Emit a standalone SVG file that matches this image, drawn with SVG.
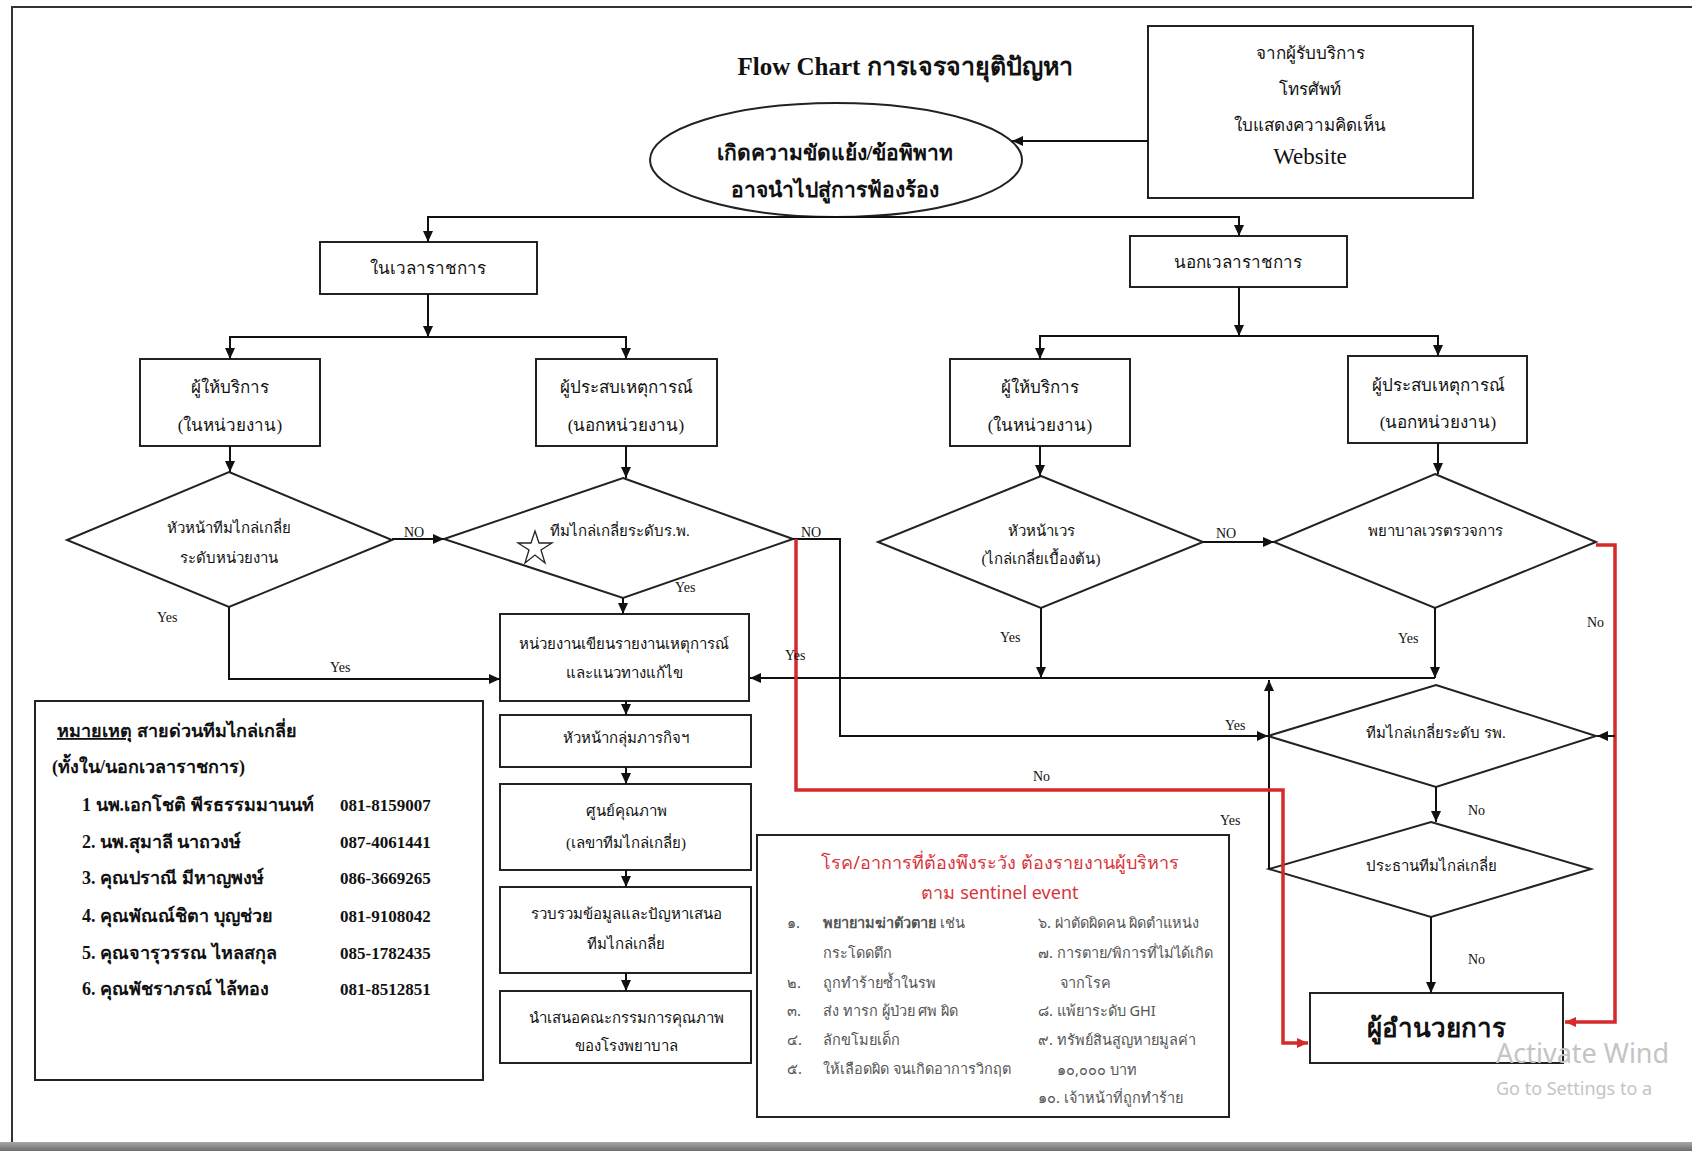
<svg xmlns="http://www.w3.org/2000/svg" width="1692" height="1151" viewBox="0 0 1692 1151">
<defs>
<marker id="ab" markerUnits="userSpaceOnUse" markerWidth="12" markerHeight="10" refX="11" refY="5" orient="auto"><path d="M0,0 L11,5 L0,10 z" fill="#111"/></marker>
<marker id="ar" markerUnits="userSpaceOnUse" markerWidth="12" markerHeight="10" refX="11" refY="5" orient="auto"><path d="M0,0 L11,5 L0,10 z" fill="#d42a2a"/></marker>
<linearGradient id="bar" x1="0" y1="0" x2="0" y2="1"><stop offset="0" stop-color="#a8a8a8"/><stop offset="1" stop-color="#6c6c6c"/></linearGradient>
</defs>
<style>
.n{fill:#fff;stroke:#222;stroke-width:2}
.t{font-family:"Liberation Serif",serif;font-size:17px;fill:#111;text-anchor:middle}
.s{font-family:"Liberation Serif",serif;font-size:15px;fill:#111;text-anchor:middle}
.lb{font-family:"Liberation Serif",serif;font-size:14px;fill:#111}
.c{fill:none;stroke:#111;stroke-width:2}
.r{fill:none;stroke:#d42a2a;stroke-width:3.5}
.nb{font-family:"Liberation Serif",serif;font-size:18px;font-weight:bold;fill:#111}
.ph{font-family:"Liberation Serif",serif;font-size:17px;font-weight:bold;fill:#111}
.g{font-family:"Noto Sans",sans-serif;font-size:14.5px;fill:#555}
.big{font-family:"Liberation Serif",serif;font-size:21px;font-weight:bold;fill:#111;text-anchor:middle}
</style>
<rect width="1692" height="1151" fill="#fff"/>
<path d="M12,1142 V7 H1692" fill="none" stroke="#333" stroke-width="2"/>
<rect x="0" y="1142" width="1692" height="9" fill="url(#bar)"/>

<text x="905" y="75" font-family="Liberation Serif,serif" font-size="25" font-weight="bold" text-anchor="middle" fill="#111">Flow Chart การเจรจายุติปัญหา</text>

<g id="n-start"><ellipse class="n" cx="836" cy="160" rx="186" ry="57"/>
<text class="big" x="835" y="160">เกิดความขัดแย้ง/ข้อพิพาท</text>
<text class="big" x="835" y="197">อาจนำไปสู่การฟ้องร้อง</text></g>

<g id="n-source"><rect class="n" x="1148" y="26" width="325" height="172"/>
<text class="t" x="1310" y="59">จากผู้รับบริการ</text>
<text class="t" x="1310" y="95">โทรศัพท์</text>
<text class="t" x="1310" y="131">ใบแสดงความคิดเห็น</text>
<text class="t" x="1310" y="164" style="font-size:23px">Website</text></g>

<g id="n-in"><rect class="n" x="320" y="242" width="217" height="52"/><text class="t" x="428" y="274">ในเวลาราชการ</text></g>
<g id="n-out"><rect class="n" x="1130" y="236" width="217" height="51"/><text class="t" x="1238" y="268">นอกเวลาราชการ</text></g>

<g id="n-prov1"><rect class="n" x="140" y="359" width="180" height="87"/><text class="t" x="230" y="393">ผู้ให้บริการ</text><text class="t" x="230" y="431">(ในหน่วยงาน)</text></g>
<g id="n-wit1"><rect class="n" x="536" y="359" width="181" height="87"/><text class="t" x="626" y="393">ผู้ประสบเหตุการณ์</text><text class="t" x="626" y="431">(นอกหน่วยงาน)</text></g>
<g id="n-prov2"><rect class="n" x="950" y="359" width="180" height="87"/><text class="t" x="1040" y="393">ผู้ให้บริการ</text><text class="t" x="1040" y="431">(ในหน่วยงาน)</text></g>
<g id="n-wit2"><rect class="n" x="1348" y="356" width="179" height="87"/><text class="t" x="1438" y="391">ผู้ประสบเหตุการณ์</text><text class="t" x="1438" y="428">(นอกหน่วยงาน)</text></g>

<g id="n-d1"><polygon class="n" points="229,472 392,540 229,607 67,540"/><text class="s" x="229" y="533">หัวหน้าทีมไกล่เกลี่ย</text><text class="s" x="229" y="563">ระดับหน่วยงาน</text></g>
<g id="n-d2"><polygon class="n" points="623,478 793,539 623,598 444,539"/><text class="s" x="620" y="536">ทีมไกล่เกลี่ยระดับร.พ.</text>
<polygon points="535,531 539,543 552,543 541,550 545,563 535,555 525,563 529,550 518,543 531,543" fill="#fff" stroke="#222" stroke-width="1.3"/></g>
<g id="n-d3"><polygon class="n" points="1041,476 1203,542 1041,608 878,542"/><text class="s" x="1041" y="536">หัวหน้าเวร</text><text class="s" x="1041" y="564">(ไกล่เกลี่ยเบื้องต้น)</text></g>
<g id="n-d4"><polygon class="n" points="1435,474 1596,542 1435,608 1274,542"/><text class="s" x="1435" y="536">พยาบาลเวรตรวจการ</text></g>

<g id="n-report"><rect class="n" x="500" y="614" width="249" height="87"/><text class="s" x="624" y="649">หน่วยงานเขียนรายงานเหตุการณ์</text><text class="s" x="624" y="678">และแนวทางแก้ไข</text></g>
<g id="n-head"><rect class="n" x="500" y="715" width="251" height="52"/><text class="s" x="626" y="743">หัวหน้ากลุ่มภารกิจฯ</text></g>
<g id="n-qc"><rect class="n" x="500" y="784" width="251" height="86"/><text class="s" x="626" y="816">ศูนย์คุณภาพ</text><text class="s" x="626" y="848">(เลขาทีมไกล่เกลี่ย)</text></g>
<g id="n-collect"><rect class="n" x="500" y="887" width="251" height="86"/><text class="s" x="626" y="919">รวบรวมข้อมูลและปัญหาเสนอ</text><text class="s" x="626" y="949">ทีมไกล่เกลี่ย</text></g>
<g id="n-commit"><rect class="n" x="500" y="991" width="251" height="72"/><text class="s" x="626" y="1023">นำเสนอคณะกรรมการคุณภาพ</text><text class="s" x="626" y="1051">ของโรงพยาบาล</text></g>

<g id="n-d5"><polygon class="n" points="1436,685 1596,736 1436,787 1268,736"/><text class="s" x="1436" y="738">ทีมไกล่เกลี่ยระดับ รพ.</text></g>
<g id="n-d6"><polygon class="n" points="1431,822 1591,869 1431,917 1269,869"/><text class="s" x="1431" y="871">ประธานทีมไกล่เกลี่ย</text></g>
<g id="n-dir"><rect class="n" x="1310" y="993" width="253" height="70"/><text class="big" x="1436" y="1037" style="font-size:26px">ผู้อำนวยการ</text></g>

<g id="n-note"><rect class="n" x="35" y="701" width="448" height="379"/>
<text class="nb" x="57" y="737"><tspan text-decoration="underline">หมายเหตุ</tspan>  สายด่วนทีมไกล่เกลี่ย</text>
<text class="nb" x="52" y="773">(ทั้งใน/นอกเวลาราชการ)</text>
<text class="nb" x="82" y="811">1 นพ.เอกโชติ พีรธรรมมานนท์</text><text class="ph" x="340" y="811">081-8159007</text>
<text class="nb" x="82" y="848">2. นพ.สุมาลี นาถวงษ์</text><text class="ph" x="340" y="848">087-4061441</text>
<text class="nb" x="82" y="884">3. คุณปราณี มีหาญพงษ์</text><text class="ph" x="340" y="884">086-3669265</text>
<text class="nb" x="82" y="922">4. คุณพัณณ์ชิตา บุญช่วย</text><text class="ph" x="340" y="922">081-9108042</text>
<text class="nb" x="82" y="959">5. คุณจารุวรรณ ไหลสกุล</text><text class="ph" x="340" y="959">085-1782435</text>
<text class="nb" x="82" y="995">6. คุณพัชราภรณ์ ไล้ทอง</text><text class="ph" x="340" y="995">081-8512851</text></g>

<g id="n-sentinel"><rect class="n" x="757" y="835" width="472" height="282"/>
<text x="1000" y="869" font-family="Noto Sans,sans-serif" font-size="18" fill="#d8343a" text-anchor="middle">โรค/อาการที่ต้องพึงระวัง ต้องรายงานผู้บริหาร</text>
<text x="1000" y="899" font-family="Noto Sans,sans-serif" font-size="18" fill="#d8343a" text-anchor="middle">ตาม sentinel event</text>
<text class="g" x="787" y="928">๑.</text><text class="g" x="823" y="928"><tspan font-weight="bold">พยายามฆ่าตัวตาย</tspan> เช่น</text>
<text class="g" x="823" y="958">กระโดดตึก</text>
<text class="g" x="787" y="988">๒.</text><text class="g" x="823" y="988">ถูกทำร้ายซ้ำในรพ</text>
<text class="g" x="787" y="1016">๓.</text><text class="g" x="823" y="1016">ส่ง ทารก ผู้ป่วย ศพ ผิด</text>
<text class="g" x="787" y="1045">๔.</text><text class="g" x="823" y="1045">ลักขโมยเด็ก</text>
<text class="g" x="787" y="1074">๕.</text><text class="g" x="823" y="1074">ให้เลือดผิด จนเกิดอาการวิกฤต</text>
<text class="g" x="1038" y="928">๖. ผ่าตัดผิดคน ผิดตำแหน่ง</text>
<text class="g" x="1038" y="958">๗. การตาย/พิการที่ไม่ได้เกิด</text>
<text class="g" x="1060" y="988">จากโรค</text>
<text class="g" x="1038" y="1016">๘. แพ้ยาระดับ GHI</text>
<text class="g" x="1038" y="1045">๙. ทรัพย์สินสูญหายมูลค่า</text>
<text class="g" x="1057" y="1075">๑๐,๐๐๐ บาท</text>
<text class="g" x="1038" y="1103">๑๐. เจ้าหน้าที่ถูกทำร้าย</text></g>

<g id="connectors">
<path class="c" d="M1148,141 H1012" marker-end="url(#ab)"/>
<path class="c" d="M836,217 H428 V242" marker-end="url(#ab)"/>
<path class="c" d="M836,217 H1239 V236" marker-end="url(#ab)"/>
<path class="c" d="M428,294 V337" marker-end="url(#ab)"/>
<path class="c" d="M428,337 H230 V359" marker-end="url(#ab)"/>
<path class="c" d="M428,337 H626 V359" marker-end="url(#ab)"/>
<path class="c" d="M1239,287 V336" marker-end="url(#ab)"/>
<path class="c" d="M1239,336 H1040 V359" marker-end="url(#ab)"/>
<path class="c" d="M1239,336 H1438 V356" marker-end="url(#ab)"/>
<path class="c" d="M230,446 V472" marker-end="url(#ab)"/>
<path class="c" d="M626,446 V478" marker-end="url(#ab)"/>
<path class="c" d="M1040,446 V476" marker-end="url(#ab)"/>
<path class="c" d="M1438,443 V474" marker-end="url(#ab)"/>
<path class="c" d="M392,539 H444" marker-end="url(#ab)"/>
<path class="c" d="M1203,542 H1274" marker-end="url(#ab)"/>
<path class="c" d="M229,607 V679 H500" marker-end="url(#ab)"/>
<path class="c" d="M623,598 V614" marker-end="url(#ab)"/>
<path class="c" d="M626,701 V715" marker-end="url(#ab)"/>
<path class="c" d="M626,767 V784" marker-end="url(#ab)"/>
<path class="c" d="M626,870 V887" marker-end="url(#ab)"/>
<path class="c" d="M626,973 V991" marker-end="url(#ab)"/>
<path class="c" d="M1041,608 V678" marker-end="url(#ab)"/>
<path class="c" d="M1435,608 V678" marker-end="url(#ab)"/>
<path class="c" d="M1435,678 H750" marker-end="url(#ab)"/>
<path class="c" d="M793,539 H840 V736 H1268" marker-end="url(#ab)"/>
<path class="c" d="M1269,869 V680" marker-end="url(#ab)"/>
<path class="c" d="M1436,787 V822" marker-end="url(#ab)"/>
<path class="c" d="M1431,917 V993" marker-end="url(#ab)"/>
<path class="r" d="M796,539 V790 H1283 V1043 H1308" marker-end="url(#ar)"/>
<path class="r" d="M1596,545 H1615 V1022 H1565" marker-end="url(#ar)"/>
<path class="c" d="M1615,736 H1597" marker-end="url(#ab)"/>
<text class="lb" x="404" y="537">NO</text>
<text class="lb" x="801" y="537">NO</text>
<text class="lb" x="1216" y="538">NO</text>
<text class="lb" x="157" y="622">Yes</text>
<text class="lb" x="330" y="672">Yes</text>
<text class="lb" x="675" y="592">Yes</text>
<text class="lb" x="785" y="660">Yes</text>
<text class="lb" x="1000" y="642">Yes</text>
<text class="lb" x="1398" y="643">Yes</text>
<text class="lb" x="1587" y="627">No</text>
<text class="lb" x="1225" y="730">Yes</text>
<text class="lb" x="1220" y="825">Yes</text>
<text class="lb" x="1468" y="815">No</text>
<text class="lb" x="1468" y="964">No</text>
<text class="lb" x="1033" y="781">No</text>
</g>

<text x="1496" y="1063" font-family="Noto Sans,sans-serif" font-size="27" fill="#c4c4c4">Activate Wind</text>
<text x="1496" y="1095" font-family="Noto Sans,sans-serif" font-size="18" fill="#c4c4c4">Go to Settings to a</text>
</svg>
